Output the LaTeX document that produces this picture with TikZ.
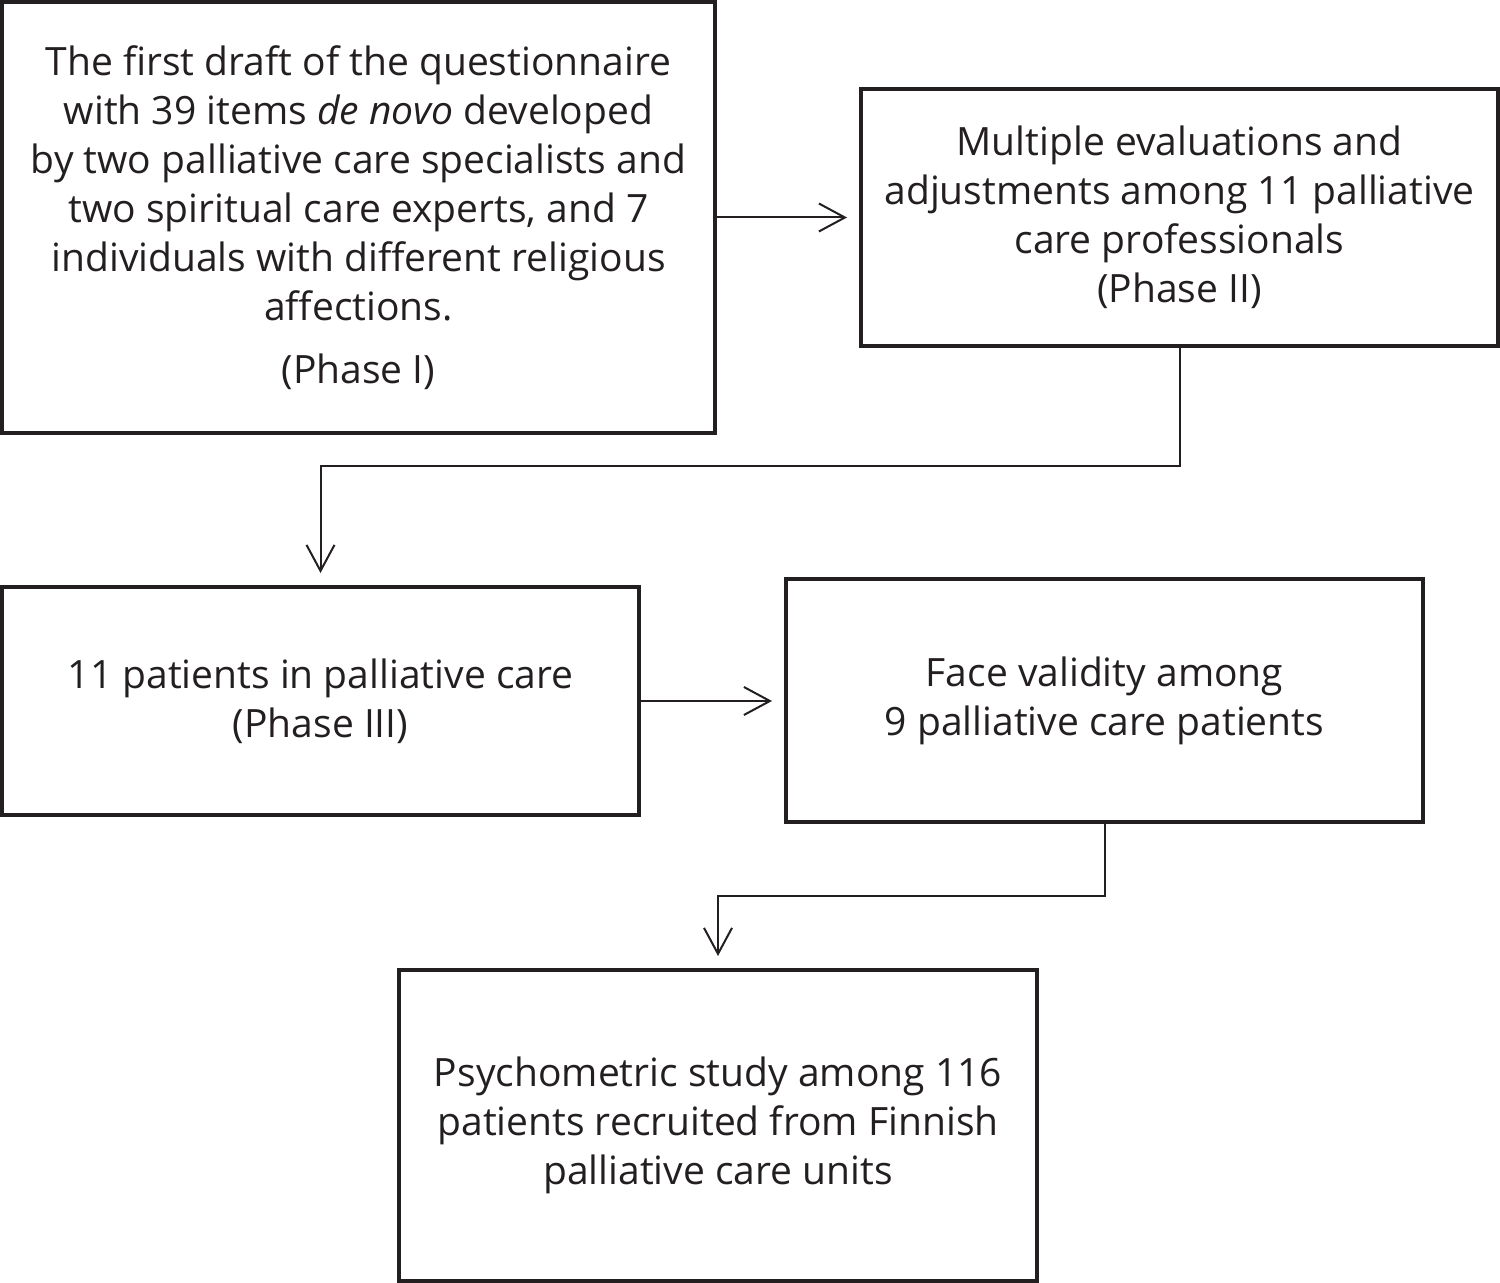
\documentclass[tikz,border=0pt]{standalone}
\usepackage{fontspec}
\setmainfont{Open Sans}
\usetikzlibrary{arrows.meta}
\definecolor{ink}{HTML}{231F20}
\tikzset{
  box/.style={draw=ink, line width=2pt, rectangle, inner sep=0pt, align=center, text=ink,
    font=\fontsize{19.5}{24.5}\selectfont},
  conn/.style={draw=ink, line width=1pt, -{Straight Barb[length=13pt,width=14pt,line width=1pt]}, shorten >=6pt}
}
\begin{document}
\begin{tikzpicture}[x=0.5pt,y=-0.5pt]
\useasboundingbox (0,0) rectangle (1500,1283);
\node[box, minimum width=356.5pt, minimum height=215.5pt] (b1) at (358.5,217.5)
 {The first draft of the questionnaire\\with 39 items \textit{de novo} developed\\by two palliative care specialists and\\two spiritual care experts, and 7\\individuals with different religious\\affections.\\[7pt](Phase I)};
\node[box, minimum width=318.5pt, minimum height=128.5pt] (b2) at (1179.5,217.5)
 {Multiple evaluations and\\adjustments among 11 palliative\\care professionals\\(Phase II)};
\node[box, minimum width=318.5pt, minimum height=114pt] (b3) at (320.5,701)
 {11 patients in palliative care\\(Phase III)};
\node[box, minimum width=318.5pt, minimum height=121.5pt] (b4) at (1104.5,700.5)
 {Face validity among\\9 palliative care patients};
\node[box, minimum width=319pt, minimum height=155.5pt] (b5) at (718,1125.5)
 {Psychometric study among 116\\patients recruited from Finnish\\palliative care units};
\coordinate (m1) at (1179.5,466);
\coordinate (m2) at (1104.5,896);
\draw[conn] (b1.east) -- (b2.west);
\draw[conn] (b2.south) -- (m1) -| (b3.north);
\draw[conn] (b3.east) -- (b3.east -| b4.west);
\draw[conn] (b4.south) -- (m2) -| (b5.north);
\end{tikzpicture}
\end{document}
